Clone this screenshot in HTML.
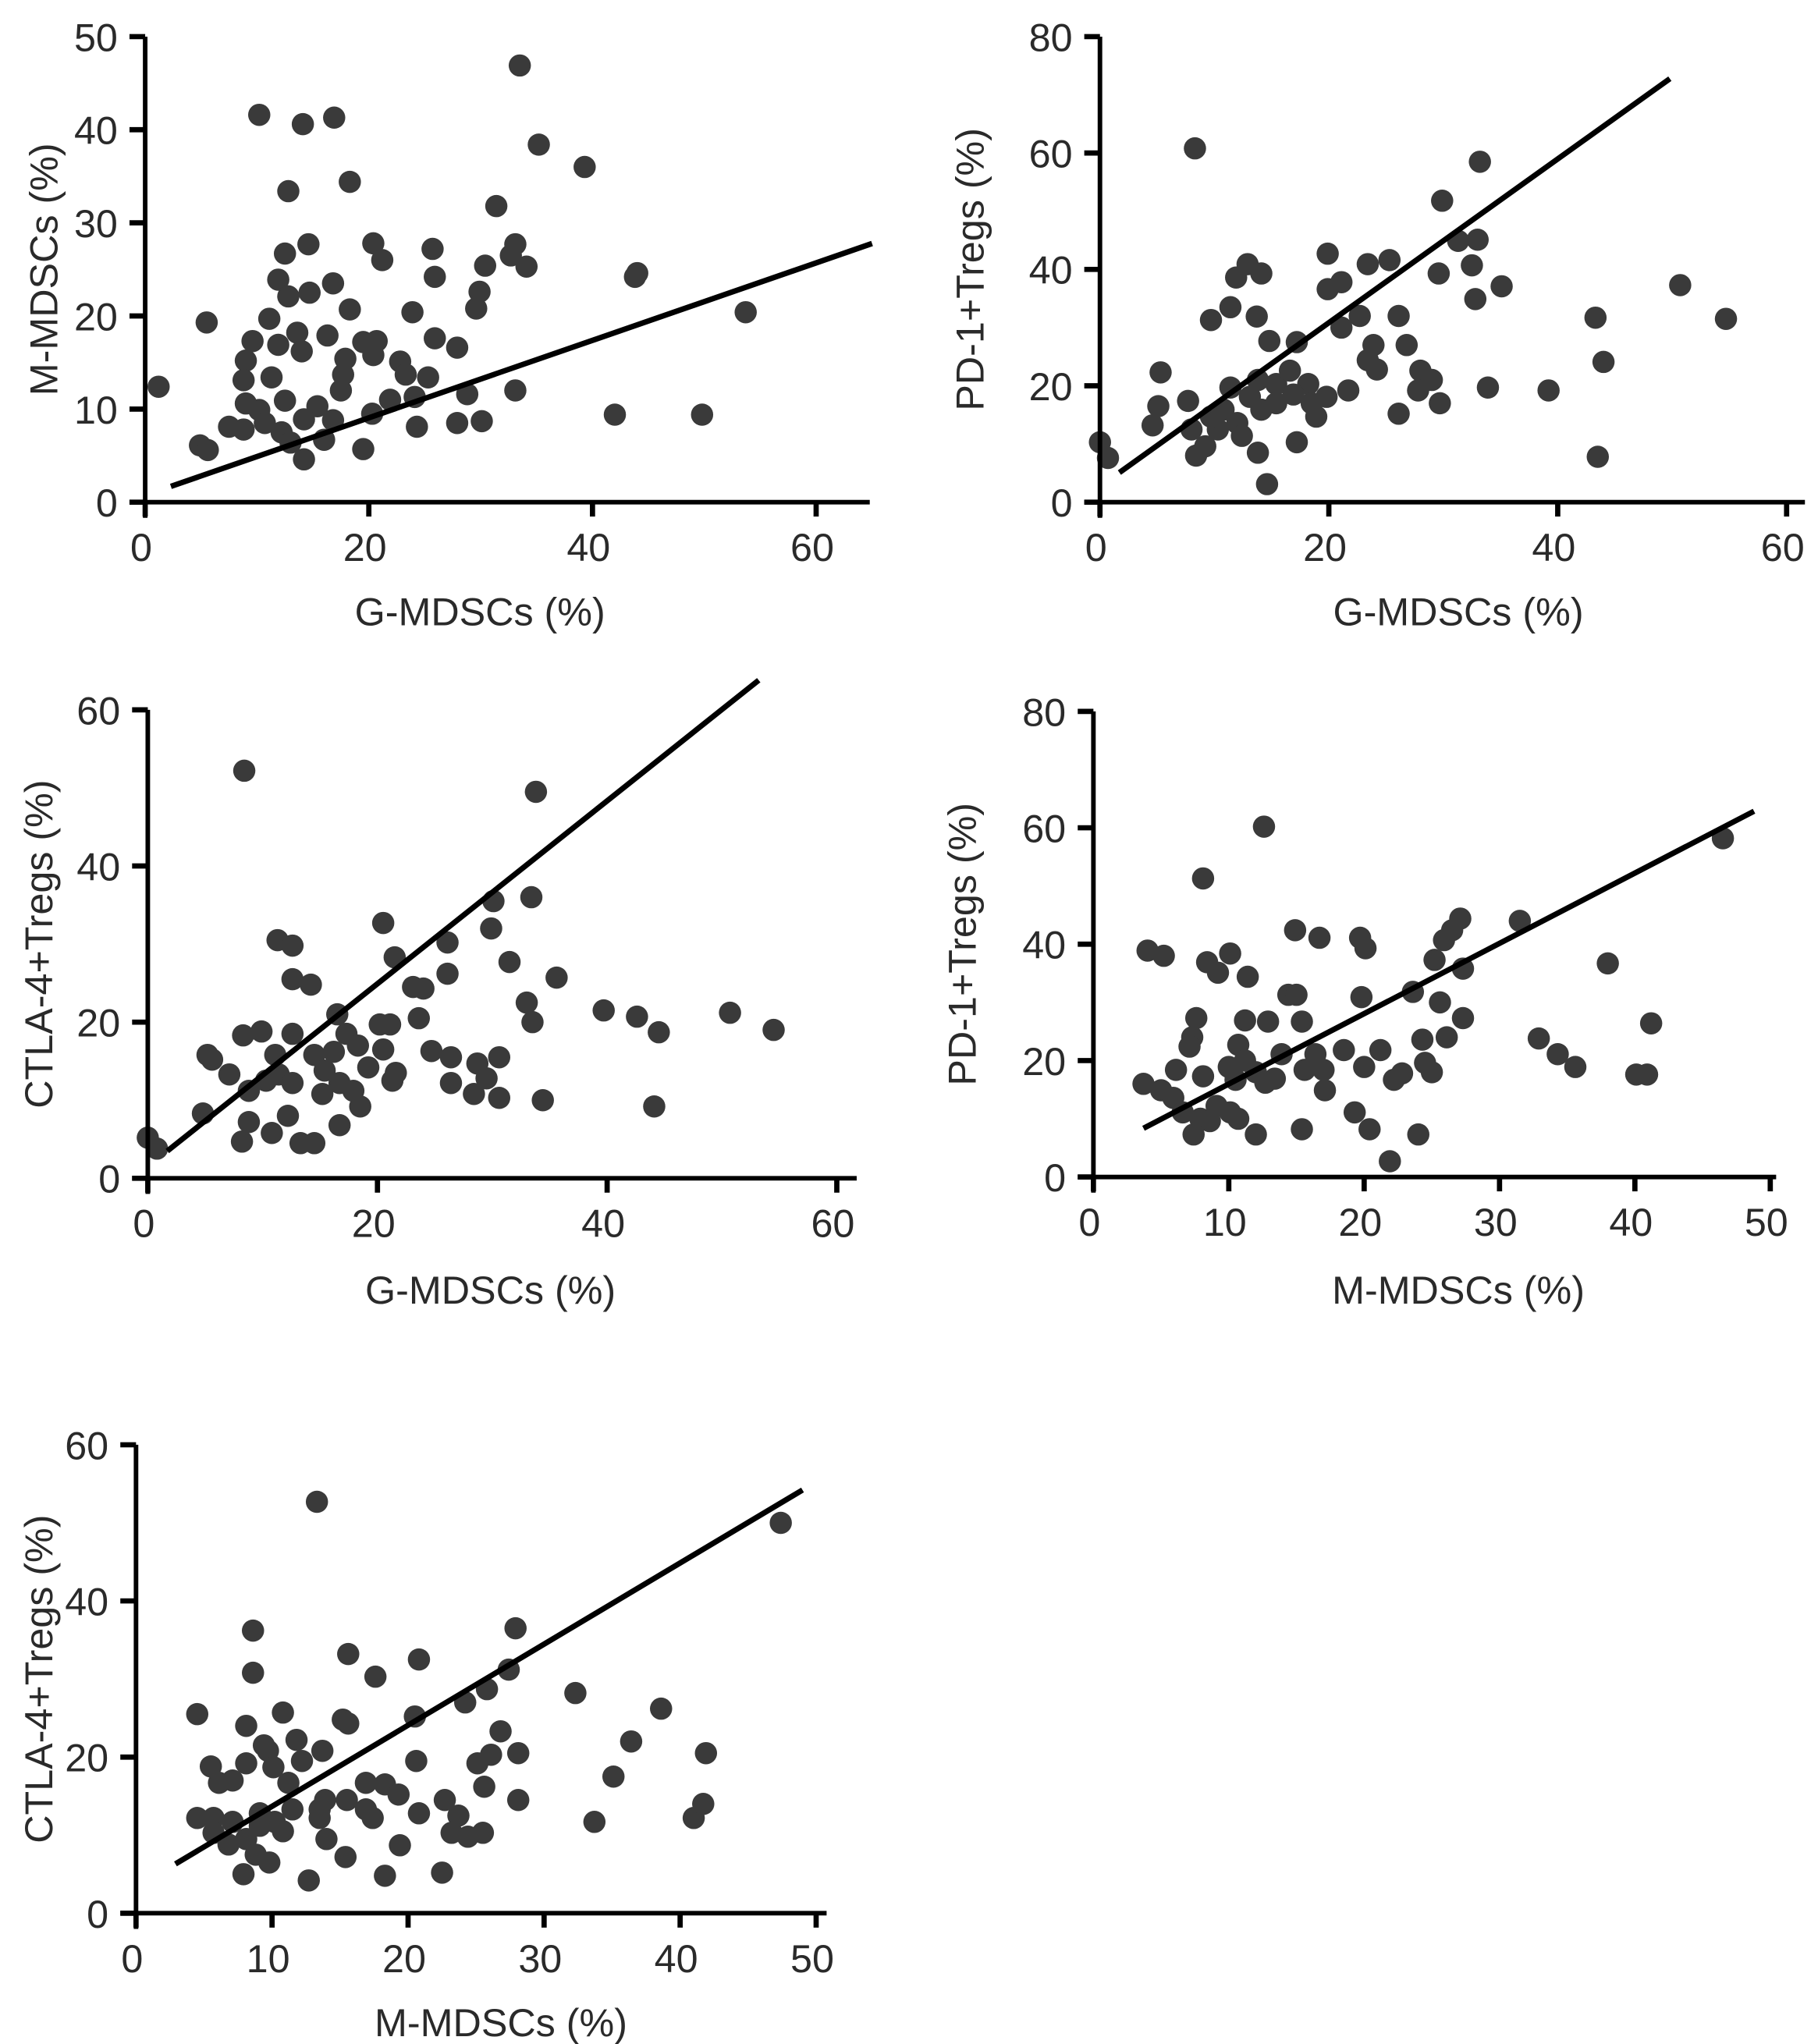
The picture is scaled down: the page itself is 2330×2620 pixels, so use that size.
<!DOCTYPE html>
<html><head><meta charset="utf-8"><style>
html,body{margin:0;padding:0;background:#fff}
svg{display:block}
text{font-family:"Liberation Sans",sans-serif;fill:#2a2a2a}
</style></head><body>
<svg id="fig" width="2330" height="2620" viewBox="0 0 1390 1563" xmlns="http://www.w3.org/2000/svg"></svg>
<script>
// Panel 1: G-MDSCs vs M-MDSCs
const p1x=[1.2,10.2,14.1,16.9,33.5,35.2,39.3,18.3,12.8,31.4,14.6,12.5,20.4,25.7,33.1,32.7,34.1,30.4,21.2,11.9,14.7,16.8,25.9,29.9,29.6,44,43.8,53.7,5.5,11.1,12.8,18.3,23.9,9.6,11.9,13.6,16.3,19.5,20.7,25.9,27.9,9,14,17.9,20.4,22.8,23.3,8.8,11.3,17.7,25.3,28.8,33.1,17.5,21.9,24.1,9,10.2,12.5,15.4,14.2,16.8,10.7,7.5,8.8,12.2,13,16,19.5,4.9,5.6,14.2,24.3,27.9,30.1,42,49.8,20.3];
const p1y=[12.4,41.6,40.6,41.3,46.9,38.4,36,34.4,33.4,31.8,27.7,26.7,27.8,27.2,27.7,26.5,25.3,25.4,26,23.9,22.5,23.5,24.2,22.6,20.8,24.6,24.2,20.4,19.3,19.7,22.1,20.7,20.4,17.3,16.9,18.2,17.9,17.2,17.3,17.6,16.6,15.2,16.2,15.4,15.8,15.1,13.7,13.1,13.4,13.7,13.4,11.6,12,12,11,11.3,10.6,9.9,10.9,10.3,8.9,8.8,8.5,8.1,7.8,7.5,6.4,6.7,5.7,6.1,5.6,4.6,8.1,8.5,8.7,9.4,9.4,9.5];
const p1fit=[2.3,65]; const p1coef=[0.416,0.74];
// Panel 2: G-MDSCs vs PD-1+Tregs
const p2x=[0,0.7,8.3,33.2,29.9,31.3,33,32.5,25.3,23.4,19.9,21.1,19.9,29.6,35.1,32.8,50.7,54.7,43.3,12.9,11.9,14.1,11.4,9.7,13.7,17.2,14.8,22.7,26.1,21.1,23.9,26.8,23.4,24.2,28,29,33.9,39.2,44,27.8,29.7,21.7,19.8,18.9,26.1,5.3,5.1,4.6,8,8.4,9.2,10.8,12,13.1,11.4,13.8,15.4,16.6,18.2,16.9,14.1,15.4,18.5,10.3,12.4,13.8,17.2,14.6,43.5,7.7,9.7];
const p2y=[10.3,7.6,60.8,58.5,51.8,44.9,45.1,40.7,41.6,40.9,42.7,37.8,36.6,39.3,37.1,34.9,37.3,31.5,31.7,40.9,38.6,39.3,33.5,31.3,31.9,27.5,27.7,32,32,30,27,27,24.4,22.8,22.6,21,19.7,19.2,24.1,19.2,17,19.2,18.1,14.7,15.2,22.3,16.5,13.2,12.5,8,9.6,15.9,13.6,18.1,19.7,21,20.3,22.6,20.3,18.5,15.9,17,17,12.5,11.4,8.5,10.3,3.1,7.8,17.4,14.7];
const p2fit=[1.7,49.8]; const p2coef=[1.407,2.7];
// Panel 3: G-MDSCs vs CTLA-4+Tregs
const p3x=[0,0.8,8.4,33.8,30.1,33.4,20.5,29.9,11.3,12.6,26.1,21.5,31.5,35.6,12.6,14.2,26.1,23.1,24,33,39.7,42.6,50.7,44.5,54.5,9.9,8.3,12.6,16.5,17.3,23.6,21.1,20.2,33.5,5.2,5.6,7.1,11.1,14.5,16.2,18.3,20.5,24.7,26.4,28.7,30.6,19.2,21.6,26.4,29.5,15.4,11.4,10.3,12.6,16.7,8.8,15.2,17.9,21.3,28.4,30.6,34.4,44.1,18.5,4.8,8.8,16.7,10.8,8.2,13.3,14.5,12.2];
const p3y=[5.2,3.8,52.2,49.5,35.5,36,32.7,32,30.5,29.8,30.2,28.3,27.7,25.7,25.5,24.8,26.2,24.5,24.3,22.5,21.5,20.7,21.2,18.7,19,18.8,18.3,18.5,21,18.5,20.5,19.7,19.7,20,15.8,15.2,13.3,15.8,15.8,16.2,17,16.5,16.3,15.5,14.7,15.5,14.2,13.5,12.2,12.8,13.8,13.3,12.5,12.2,12.2,11.2,10.8,11.2,12.5,10.8,10.3,10,9.2,9.2,8.3,7.2,6.8,5.8,4.7,4.5,4.5,8];
const p3fit=[1.7,53.2]; const p3coef=[1.171,1.5];
// Panel 4: M-MDSCs vs PD-1+Tregs
const p4x=[12.6,46.5,8.1,27.1,31.5,26.5,25.9,25.2,27.3,14.9,16.7,19.7,20.1,4.0,5.2,10.1,8.4,9.2,11.4,38,7.6,11.2,12.9,15.4,27.3,41.2,14.4,15,19.8,23.6,25.6,32.9,34.3,35.6,40.1,40.9,26.1,24.3,21.2,20,18.5,16.4,17,13.9,10.7,7.3,7.1,10,11.2,15.6,17.1,22.2,22.8,24.5,25,13.4,12.7,12,10.5,8.1,6.1,3.7,5,5.9,6.6,7.9,9.1,10.1,10.7,8.6,7.4,12,15.4,19.3,20.4,24,21.9];
const p4y=[60.2,58.2,51.3,44.4,44,42.4,40.7,37.3,35.8,42.4,41.1,41.1,39.3,38.9,38,38.4,36.9,35.1,34.4,36.7,27.3,26.9,26.7,26.7,27.3,26.4,31.3,31.3,30.9,31.8,30,23.8,21.1,18.9,17.6,17.6,24,23.6,21.8,18.9,21.8,21.1,18.4,21.1,22.7,24,22.4,18.9,20,18.4,14.9,16.7,17.8,19.6,18,16.9,16.2,18,16.7,17.3,18.4,16,14.9,13.6,11.1,10,12.2,11.1,10,9.6,7.3,7.3,8.2,11.1,8.2,7.3,2.7];
const p4fit=[3.7,48.8]; const p4coef=[1.208,3.9];
// Panel 5: M-MDSCs vs CTLA-4+Tregs
const p5x=[13.3,47.4,8.6,27.9,8.6,15.6,17.6,20.8,27.4,32.3,25.8,24.2,4.5,10.8,15.2,15.6,20.5,38.6,36.4,26.8,11.8,8.1,9.4,9.7,13.7,28.1,41.9,5.5,8.1,10.1,12.2,20.6,26.1,25.1,35.1,6.1,7.1,11.2,16.9,18.3,19.3,22.7,25.6,28.1,4.5,5.7,9.1,11.5,13.5,13.9,15.5,16.9,17.4,20.8,23.7,13.5,10.2,7.1,33.7,41,41.7,5.7,8.1,9.1,10.8,14,23.2,24.4,25.5,19.4,8.8,9.8,15.4,6.8,7.9,12.7,18.3,22.5];
const p5y=[52.7,50,36.2,36.5,30.8,33.2,30.3,32.5,31.2,28.2,28.7,27,25.5,25.7,24.8,24.3,25.2,26.2,22,23.3,22.2,24,21.5,20.8,20.8,20.5,20.5,18.8,19.2,18.7,19.5,19.5,20.3,19.2,17.5,16.7,17,16.7,16.7,16.5,15.2,14.5,16.2,14.5,12.2,12.2,12.8,13.3,13.3,14.5,14.5,13.3,12.2,12.8,12.5,12.2,11.7,11.7,11.7,12.2,14,10.3,9.5,11.2,10.5,9.5,10.3,9.8,10.3,8.7,7.5,6.5,7.2,8.8,5,4.2,4.8,5.2];
const p5fit=[2.9,49]; const p5coef=[1.039,3.3];

const xTicks60=[0,20,40,60], xTicks50=[0,10,20,30,40,50];
const yTicks50=[0,10,20,30,40,50], yTicks80=[0,20,40,60,80], yTicks60=[0,20,40,60];

const NS='http://www.w3.org/2000/svg';
const svg=document.getElementById('fig');
function mk(tag,attrs,parent){const e=document.createElementNS(NS,tag);for(const k in attrs)e.setAttribute(k,attrs[k]);(parent||svg).appendChild(e);return e;}

const panels=[
 {id:'p1',xs:p1x,ys:p1y,fit:p1fit,coef:p1coef,ox:111,oy:384,sx:8.55,sy:7.12,xt:xTicks60,yt:yTicks50,xEnd:665,xt1:'G-MDSCs (%)',yt1:'M-MDSCs (%)',tx:367,ty:478,yx:34},
 {id:'p2',xs:p2x,ys:p2y,fit:p2fit,coef:p2coef,ox:841,oy:384,sx:8.75,sy:4.45,xt:xTicks60,yt:yTicks80,xEnd:1380,xt1:'G-MDSCs (%)',yt1:'PD-1+Tregs (%)',tx:1115,ty:478,yx:742},
 {id:'p3',xs:p3x,ys:p3y,fit:p3fit,coef:p3coef,ox:113,oy:901,sx:8.78,sy:5.97,xt:xTicks60,yt:yTicks60,xEnd:655,xt1:'G-MDSCs (%)',yt1:'CTLA-4+Tregs (%)',tx:375,ty:997,yx:30},
 {id:'p4',xs:p4x,ys:p4y,fit:p4fit,coef:p4coef,ox:836,oy:900,sx:10.35,sy:4.45,xt:xTicks50,yt:yTicks80,xEnd:1358,xt1:'M-MDSCs (%)',yt1:'PD-1+Tregs (%)',tx:1115,ty:997,yx:736},
 {id:'p5',xs:p5x,ys:p5y,fit:p5fit,coef:p5coef,ox:104,oy:1463,sx:10.4,sy:5.97,xt:xTicks50,yt:yTicks60,xEnd:632,xt1:'M-MDSCs (%)',yt1:'CTLA-4+Tregs (%)',tx:383,ty:1557,yx:30}
];

panels.forEach(p=>{
 const X=v=>p.ox+v*p.sx, Y=v=>p.oy-v*p.sy;
 const g=mk('g',{});
 
 
 const yTop=Y(p.yt[p.yt.length-1]);
 p.xs.forEach((v,i)=>{
  const c=mk('circle',{cx:X(v),cy:Y(p.ys[i]),r:8.5,fill:'#3a3a3a'},g);
  
  
 });
 const l=mk('line',{x1:X(p.fit[0]),y1:Y(p.coef[0]*p.fit[0]+p.coef[1]),x2:X(p.fit[1]),y2:Y(p.coef[0]*p.fit[1]+p.coef[1]),stroke:'#000','stroke-width':4.2},g);
 
 
 const xa=mk('line',{x1:p.ox-12,y1:p.oy,x2:p.xEnd,y2:p.oy,stroke:'#000','stroke-width':3.5},g);
 
 
 const ya=mk('line',{x1:p.ox,y1:p.oy+12,x2:p.ox,y2:yTop,stroke:'#000','stroke-width':3.5},g);
 
 
 p.xt.forEach(t=>{
  mk('line',{x1:X(t),y1:p.oy,x2:X(t),y2:p.oy+11,stroke:'#000','stroke-width':4},g);
  const tx=mk('text',{x:X(t)-3,y:p.oy+45,'font-size':30,'text-anchor':'middle'},g);
  tx.textContent=t;
  
  
 });
 p.yt.forEach(t=>{
  mk('line',{x1:p.ox-12,y1:Y(t),x2:p.ox,y2:Y(t),stroke:'#000','stroke-width':4},g);
  const ty=mk('text',{x:p.ox-21,y:Y(t)+11,'font-size':30,'text-anchor':'end'},g);
  ty.textContent=t;
  
  
 });
 const xt=mk('text',{x:p.tx,y:p.ty,'font-size':30,'text-anchor':'middle'},g);
 xt.textContent=p.xt1;
 
 
 const cy=(p.oy+yTop)/2;
 const yt=mk('text',{x:p.yx,y:cy,'font-size':30,'text-anchor':'middle',transform:`rotate(-90 ${p.yx} ${cy})`,dy:10},g);
 yt.textContent=p.yt1;
 
 
});
</script>
</body></html>
